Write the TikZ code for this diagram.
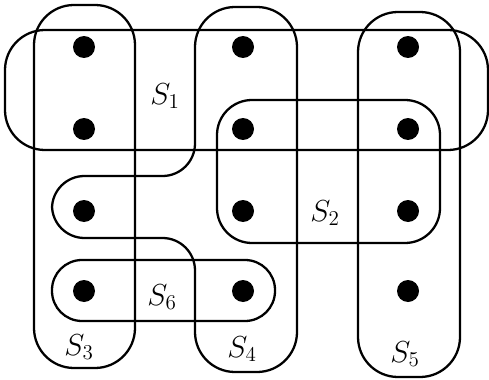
\documentclass[tikz,border=0pt]{standalone}
\usepackage{tikz}
\usetikzlibrary{positioning}

\begin{document}
\begin{tikzpicture}[x=0.02cm, y=0.02cm,
    elem/.style={circle, fill=black, inner sep=0pt, minimum size=0.44cm},
    hull/.style={line width=1.3pt},
    setlbl/.style={inner sep=0pt, font=\fontsize{18}{21}\selectfont}]
    \useasboundingbox (0, 0) rectangle (489, 379);

    % Points (columns a, b, c; rows 1 to 4 from the top)
    \foreach \c/\x in {a/84, b/243, c/408}{
        \foreach \r/\y in {1/332, 2/250, 3/168, 4/88}{
            \node[elem] (\c\r) at (\x, \y) {};
        }
    }

    % Sets
    \draw[hull, rounded corners=0.8cm] (5, 229) rectangle (488, 349);
    \draw[hull, rounded corners=0.7cm] (217, 136) rectangle (440, 279);
    \draw[hull, rounded corners=0.8cm] (34, 11) rectangle (135, 374);
    \draw[hull, rounded corners=0.8cm] (297, 190) -- (297, 7) -- (195, 7)
        [rounded corners=0.65cm] -- (195, 141) -- (52, 141) -- (52, 203) -- (195, 203)
        [rounded corners=0.8cm] -- (195, 372) -- (297, 372) -- cycle;
    \draw[hull, rounded corners=0.8cm] (358, 2) rectangle (460, 367);
    \draw[hull, rounded corners=0.6cm] (52, 58) rectangle (275, 119);

    % Labels
    \node[setlbl] (s1) at (165, 283) {$S_1$};
    \node[setlbl] (s2) at (325, 166) {$S_2$};
    \node[setlbl] (s3) at (79, 32) {$S_3$};
    \node[setlbl] (s4) at (242, 30) {$S_4$};
    \node[setlbl] (s5) at (405, 25) {$S_5$};
    \node[setlbl] (s6) at (162, 82) {$S_6$};
\end{tikzpicture}
\end{document}
